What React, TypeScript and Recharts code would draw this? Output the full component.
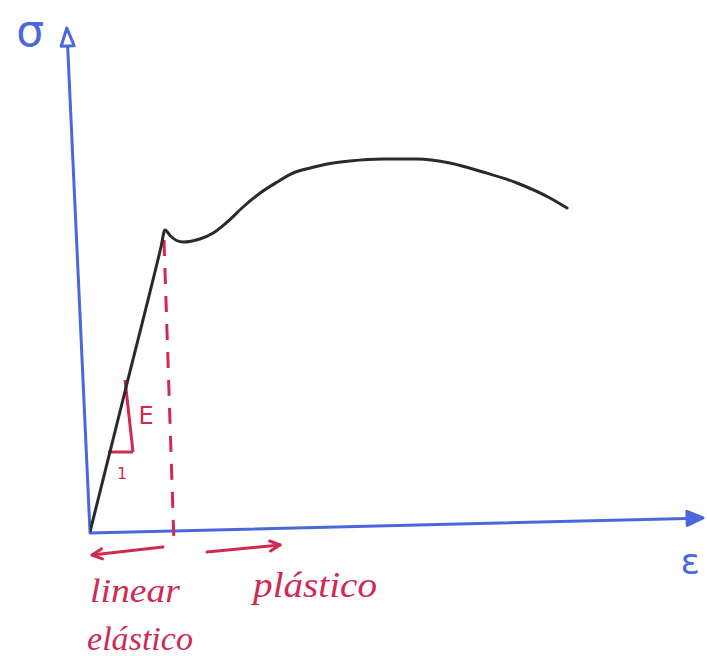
import { LineChart, Line, XAxis, YAxis, ReferenceLine, ReferenceDot } from 'recharts';

const BLUE = '#4b67dc';
const RED = '#d12a52';
const INK = '#2a2a2a';

// stress-strain curve: linear elastic rise, yield hook, hardening hump, necking
const strain = [0, 6, 11.6, 12.3, 13.2, 14.2, 15.3, 18.0, 20.2, 22.5, 25.1, 27.9, 30.7, 33.3, 36.1, 38.9, 42.6, 48.0, 53.6, 59.0, 64.4, 70.0, 75.4, 78.2];
const stress = [0, 29.4, 56.8, 60.4, 59.2, 58.3, 58.0, 58.6, 59.8, 62.0, 65.0, 67.8, 70.0, 71.8, 72.8, 73.6, 74.2, 74.6, 74.6, 73.8, 72.0, 69.8, 66.8, 64.8];

// hand-drawn axes (slightly skewed)
const sigmaAxis = [{ x: 0, y: 0 }, { x: -3.8, y: 100.8 }];
const epsAxis = [{ x: 0, y: -0.2 }, { x: 100.5, y: 2.8 }];

// yield marker and region arrows
const yieldDrop = [{ x: 12.13, y: 58.4 }, { x: 13.77, y: -2.2 }];
const elasticArrow = [{ x: 11.97, y: -3.0 }, { x: 0.33, y: -4.6 }];
const plasticArrow = [{ x: 19.18, y: -4.0 }, { x: 31.15, y: -2.6 }];

// slope triangle on the elastic part
const slopeRise = [{ x: 5.74, y: 30.4 }, { x: 7.05, y: 16.0 }];
const slopeRun = [{ x: 2.95, y: 16.0 }, { x: 7.05, y: 16.0 }];

const labels = [
  { x: -9.8, y: 100.4, text: 'σ', color: BLUE, size: 44, width: 0, font: "'DejaVu Sans', sans-serif", italic: false },
  { x: 98.4, y: -5.8, text: 'ε', color: BLUE, size: 36, width: 0, font: "'DejaVu Sans', sans-serif", italic: false },
  { x: 9.2, y: 23.2, text: 'E', color: RED, size: 24, width: 0, font: "'DejaVu Sans', sans-serif", italic: false },
  { x: 5.25, y: 11.8, text: '1', color: RED, size: 16, width: 0, font: "'DejaVu Sans', sans-serif", italic: false },
  { x: 7.38, y: -11.6, text: 'linear', color: RED, size: 34, width: 90, font: "'Liberation Serif', serif", italic: true },
  { x: 8.2, y: -21.2, text: 'elástico', color: RED, size: 34, width: 106, font: "'Liberation Serif', serif", italic: true },
  { x: 36.9, y: -10.6, text: 'plástico', color: RED, size: 36, width: 124, font: "'Liberation Serif', serif", italic: true },
];

const curve = strain.map((x, i) => ({ x, y: stress[i] }));

type Head = 'open' | 'solid' | 'chevron';

function arrow(head: Head, len: number, half: number) {
  return (p: any) => {
    const { x1, y1, x2, y2, stroke } = p;
    const a = Math.atan2(y2 - y1, x2 - x1);
    const bx = x2 - len * Math.cos(a);
    const by = y2 - len * Math.sin(a);
    const nx = -Math.sin(a) * half;
    const ny = Math.cos(a) * half;
    const shaftEnd = head === 'chevron' ? [x2, y2] : [bx, by];
    return (
      <g>
        <line x1={x1} y1={y1} x2={shaftEnd[0]} y2={shaftEnd[1]} stroke={stroke} strokeWidth={3} strokeLinecap="round" />
        {head === 'chevron' ? (
          <polyline
            points={`${bx + nx},${by + ny} ${x2},${y2} ${bx - nx},${by - ny}`}
            fill="none" stroke={stroke} strokeWidth={3} strokeLinecap="round" strokeLinejoin="round"
          />
        ) : (
          <polygon
            points={`${bx + nx},${by + ny} ${x2},${y2} ${bx - nx},${by - ny}`}
            fill={head === 'solid' ? stroke : '#fff'} stroke={stroke} strokeWidth={3} strokeLinejoin="round"
          />
        )}
      </g>
    );
  };
}

const seg = (pts: { x: number; y: number }[]) => [pts[0], pts[1]] as any;

export default function App() {
  return (
    <div style={{ position: 'absolute', left: 0, top: 0, background: '#fff' }}>
      <LineChart width={707} height={656} data={curve} margin={{ top: 32, right: 7, bottom: 124, left: 90 }}>
        <XAxis dataKey="x" type="number" domain={[0, 100]} hide allowDataOverflow />
        <YAxis type="number" domain={[0, 100]} hide allowDataOverflow />

        <ReferenceLine segment={seg(sigmaAxis)} stroke={BLUE} ifOverflow="visible" shape={arrow('open', 18, 6.5)} />
        <ReferenceLine segment={seg(epsAxis)} stroke={BLUE} ifOverflow="visible" shape={arrow('solid', 16, 7)} />

        <ReferenceLine segment={seg(yieldDrop)} stroke={RED} strokeWidth={3} strokeDasharray="16 12" ifOverflow="visible" />
        <ReferenceLine segment={seg(elasticArrow)} stroke={RED} ifOverflow="visible" shape={arrow('chevron', 10, 5)} />
        <ReferenceLine segment={seg(plasticArrow)} stroke={RED} ifOverflow="visible" shape={arrow('chevron', 10, 5)} />
        <ReferenceLine segment={seg(slopeRise)} stroke={RED} strokeWidth={3} ifOverflow="visible" />
        <ReferenceLine segment={seg(slopeRun)} stroke={RED} strokeWidth={3} ifOverflow="visible" />

        <Line
          dataKey="y"
          type="monotone"
          stroke={INK}
          strokeWidth={3}
          dot={false}
          isAnimationActive={false}
          strokeLinecap="round"
          strokeLinejoin="round"
        />

        {labels.map((l) => (
          <ReferenceDot
            key={l.text}
            x={l.x}
            y={l.y}
            r={0}
            ifOverflow="visible"
            shape={(p: any) => (
              <text
                x={p.cx}
                y={p.cy}
                fill={l.color}
                fontSize={l.size}
                fontFamily={l.font}
                fontStyle={l.italic ? 'italic' : 'normal'}
                textAnchor="middle"
                dominantBaseline="central"
                {...(l.width ? { textLength: l.width, lengthAdjust: 'spacingAndGlyphs' } : {})}
              >
                {l.text}
              </text>
            )}
          />
        ))}
      </LineChart>
    </div>
  );
}
